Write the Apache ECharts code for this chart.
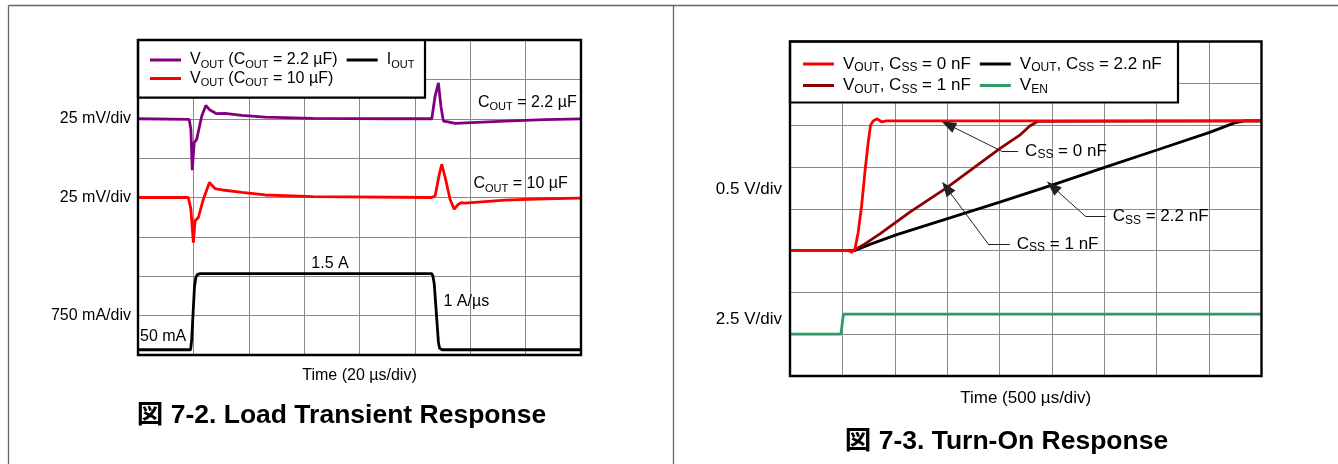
<!DOCTYPE html>
<html>
<head>
<meta charset="utf-8">
<script src="https://cdn.jsdelivr.net/npm/echarts@6/dist/echarts.min.js"></script>
<style>
  html, body { margin: 0; padding: 0; background: #fff; }
  #chart { width: 1338px; height: 464px; }
</style>
</head>
<body>
<div id="chart"></div>
<script>
// ---------- Load transient response (time in µs) ----------
// VOUT deviation with COUT = 2.2 µF, in mV
const ltPurpleTime = [0, 18.5, 19.1, 19.6, 20.3, 21.2, 23.0, 24.5, 26.0, 28.4, 31.4, 37.5, 45.9, 63.2, 90, 106.1, 107.3, 108.5, 109.4, 110.3, 111.5, 114.5, 120.5, 132.5, 147, 160];
const ltPurpleMv   = [0, -0.4, -6.8, -32.6, -15.2, -13.1, 1.6, 8.4, 5.5, 3.2, 3.4, 2.1, 1.0, 0.2, 0, 0, 14.3, 22.8, 8.0, -1.5, -1.9, -3.0, -2.5, -1.5, -0.6, -0.1];
// VOUT deviation with COUT = 10 µF, in mV
const ltRedTime = [0, 18.2, 19.1, 20.0, 20.6, 21.8, 23.6, 25.8, 27.8, 31.4, 37.5, 45.9, 63.2, 106.0, 107.3, 108.7, 109.7, 111.1, 112.7, 114.2, 115.7, 116.9, 117.8, 120.5, 132.5, 147, 160];
const ltRedMv   = [0, 0, -7.4, -28.6, -14.8, -12.7, -1.1, 9.5, 5.7, 4.6, 3.2, 1.6, 0.5, 0, 1.0, 13.7, 21.1, 11.6, -1.1, -7.4, -4.3, -3.2, -3.6, -3.2, -1.7, -0.8, -0.4];
// Load current step, in A
const ltIoutTime = [0, 19.0, 19.4, 20.4, 20.9, 21.4, 22.4, 106.0, 106.5, 107.0, 108.5, 108.9, 109.8, 160];
const ltIoutA    = [0.05, 0.05, 0.25, 1.25, 1.43, 1.48, 1.5, 1.5, 1.46, 1.3, 0.2, 0.08, 0.05, 0.05];

// ---------- Turn-on response (time in µs, volts) ----------
const onCss0Time = [0, 556, 588, 620, 651, 684, 715, 747, 769, 794, 832, 874, 922, 4500];
const onCss0V    = [0, 0, -0.02, 0.02, 0.22, 0.54, 0.94, 1.30, 1.50, 1.55, 1.575, 1.54, 1.55, 1.55];
const onCss1Time = [0, 591, 620, 715, 858, 1144, 1494, 2002, 2193, 2288, 2365, 4500];
const onCss1V    = [0, 0, 0.01, 0.08, 0.20, 0.46, 0.75, 1.22, 1.38, 1.49, 1.545, 1.55];
const onCss22Time = [0, 591, 620, 763, 1020, 1526, 2002, 2508, 3003, 3509, 4005, 4243, 4338, 4500];
const onCss22V    = [0, 0, 0, 0.074, 0.19, 0.39, 0.58, 0.785, 0.995, 1.205, 1.413, 1.527, 1.55, 1.55];
const onEnTime = [0, 486, 510, 4500];
const onEnV    = [0, 0, 1.2, 1.2];

// Per-division scale labels
const leftDivLabels = { 6: '25 mV/div', 4: '25 mV/div', 1: '750 mA/div' };

const FONT = '"Liberation Sans", Arial, "Noto Sans CJK JP", sans-serif';
const pairs = (t, v) => t.map((x, i) => [x, v[i]]);

// rich styles: ECharts labels use "color", raw graphic text uses "fill"
function richLabel(size, sub) {
  return {
    n: { fontSize: size, fontFamily: FONT, color: '#000', lineHeight: 20 },
    s: { fontSize: sub, fontFamily: FONT, color: '#000', lineHeight: sub + 2, verticalAlign: 'bottom' }
  };
}
function richGraphic(size, sub) {
  return {
    n: { fontSize: size, fontFamily: FONT, fill: '#000', lineHeight: 20 },
    s: { fontSize: sub, fontFamily: FONT, fill: '#000', lineHeight: sub + 2, verticalAlign: 'bottom' }
  };
}

const LEGEND_TEXT = {
  'vout22': '{n|V}{s|OUT}{n| (C}{s|OUT}{n| = 2.2 µF)}',
  'vout10': '{n|V}{s|OUT}{n| (C}{s|OUT}{n| = 10 µF)}',
  'iout':   '{n|I}{s|OUT}',
  'css0':   '{n|V}{s|OUT}{n|, C}{s|SS}{n| = 0 nF}',
  'css1':   '{n|V}{s|OUT}{n|, C}{s|SS}{n| = 1 nF}',
  'css22':  '{n|V}{s|OUT}{n|, C}{s|SS}{n| = 2.2 nF}',
  'ven':    '{n|V}{s|EN}'
};

const L = { left: 138, top: 40, width: 443, height: 315 };
const R = { left: 790, top: 41.5, width: 471.5, height: 334.5 };
const GRID_LINE = { show: true, lineStyle: { color: '#8a8a8a', width: 1 } };

function legendRow(items, left, top, size, sub) {
  return {
    data: items, left: left, top: top, orient: 'horizontal', padding: 0,
    icon: 'rect', itemWidth: 31, itemHeight: 3, itemGap: 9, selectedMode: false,
    formatter: n => LEGEND_TEXT[n],
    textStyle: { rich: richLabel(size, sub), padding: [0, 0, 0, 4] }
  };
}

function traceLine(name, color, xi, yi, data, extra) {
  return Object.assign({
    type: 'line', name: name, xAxisIndex: xi, yAxisIndex: yi, data: data,
    symbol: 'none', showSymbol: false, color: color, silent: true, animation: false,
    lineStyle: { color: color, width: 2.8 }
  }, extra || {});
}

const annotRich = richLabel(17, 12);
function callout(bend, tip, end, text) {
  return [
    [{ coord: bend, symbol: 'none' }, { coord: tip, symbol: 'triangle', symbolSize: [11, 15] }],
    [{ coord: bend, symbol: 'none' },
     { coord: end, symbol: 'none',
       label: { show: true, position: 'end', distance: 7, formatter: () => text, rich: annotRich } }]
  ];
}

const chart = echarts.init(document.getElementById('chart'), null, { renderer: 'canvas' });

chart.setOption({
  animation: false,
  backgroundColor: '#fff',
  grid: [
    Object.assign({ show: false }, L),
    Object.assign({ show: false }, R)
  ],
  xAxis: [
    { gridIndex: 0, type: 'value', min: 0, max: 160, interval: 20,
      splitLine: GRID_LINE, axisLine: { show: false }, axisTick: { show: false }, axisLabel: { show: false },
      name: 'Time (20 µs/div)', nameLocation: 'middle', nameGap: 13,
      nameTextStyle: { fontSize: 16, fontFamily: FONT, color: '#000' } },
    { gridIndex: 1, type: 'value', min: 0, max: 4500, interval: 500,
      splitLine: GRID_LINE, axisLine: { show: false }, axisTick: { show: false }, axisLabel: { show: false },
      name: 'Time (500 µs/div)', nameLocation: 'middle', nameGap: 14,
      nameTextStyle: { fontSize: 17, fontFamily: FONT, color: '#000' } }
  ],
  yAxis: [
    // 0: division grid of the load-transient panel
    { gridIndex: 0, type: 'value', min: 0, max: 8, interval: 1,
      splitLine: GRID_LINE, axisLine: { show: false }, axisTick: { show: false },
      axisLabel: { show: true, margin: 7, fontSize: 16, fontFamily: FONT, color: '#000',
                   formatter: v => leftDivLabels[v] || '' } },
    // 1: VOUT (2.2 µF), 25 mV/div
    { gridIndex: 0, type: 'value', min: -150, max: 50, show: false, splitLine: { show: false } },
    // 2: VOUT (10 µF), 25 mV/div
    { gridIndex: 0, type: 'value', min: -100, max: 100, show: false, splitLine: { show: false } },
    // 3: IOUT, 750 mA/div
    { gridIndex: 0, type: 'value', min: -0.05, max: 5.95, show: false, splitLine: { show: false } },
    // 4: division grid of the turn-on panel
    { gridIndex: 1, type: 'value', min: 0, max: 8, interval: 1,
      splitLine: GRID_LINE, axisLine: { show: false }, axisTick: { show: false }, axisLabel: { show: false } },
    // 5: VOUT, 0.5 V/div
    { gridIndex: 1, type: 'value', min: -1.5, max: 2.5, show: false, splitLine: { show: false } },
    // 6: VEN, 2.5 V/div
    { gridIndex: 1, type: 'value', min: -2.5, max: 17.5, show: false, splitLine: { show: false } }
  ],
  legend: [
    legendRow(['vout22', 'iout'], 150, 52, 16, 11),
    legendRow(['vout10'], 150, 70.5, 16, 11),
    legendRow(['css0', 'css22'], 803, 55.5, 17, 12),
    legendRow(['css1', 'ven'], 803, 77, 17, 12)
  ],
  series: [
    traceLine('iout', '#000000', 0, 3, pairs(ltIoutTime, ltIoutA)),
    traceLine('vout10', '#ff0000', 0, 2, pairs(ltRedTime, ltRedMv)),
    traceLine('vout22', '#800080', 0, 1, pairs(ltPurpleTime, ltPurpleMv)),

    traceLine('css22', '#000000', 1, 5, pairs(onCss22Time, onCss22V)),
    traceLine('css1', '#8b0000', 1, 5, pairs(onCss1Time, onCss1V)),
    traceLine('css0', '#ff0000', 1, 5, pairs(onCss0Time, onCss0V), {
      markLine: {
        silent: true, animation: false, symbol: ['none', 'none'],
        lineStyle: { color: '#222', width: 1, type: 'solid' },
        label: { show: false },
        emphasis: { disabled: true },
        data: [].concat(
          callout([2019, 1.189], [1509, 1.507], [2177, 1.189], '{n|C}{s|SS}{n| = 0 nF}'),
          callout([2822, 0.407], [2505, 0.765], [3013, 0.407], '{n|C}{s|SS}{n| = 2.2 nF}'),
          callout([1891, 0.080], [1494, 0.750], [2098, 0.080], '{n|C}{s|SS}{n| = 1 nF}')
        )
      }
    }),
    traceLine('ven', '#2e9b66', 1, 6, pairs(onEnTime, onEnV))
  ],
  graphic: [
    // page frame
    { type: 'line', z: 1, shape: { x1: 8.5, y1: 5.5, x2: 1338, y2: 5.5 }, style: { stroke: '#666', lineWidth: 1.3 } },
    { type: 'line', z: 1, shape: { x1: 8.5, y1: 5.5, x2: 8.5, y2: 464 }, style: { stroke: '#666', lineWidth: 1.3 } },
    { type: 'line', z: 1, shape: { x1: 673.5, y1: 5.5, x2: 673.5, y2: 464 }, style: { stroke: '#666', lineWidth: 1.3 } },

    // legend boxes
    { type: 'rect', z: 3, shape: { x: 138, y: 40, width: 287, height: 57.7 }, style: { fill: '#fff', stroke: '#000', lineWidth: 2.2 } },
    { type: 'rect', z: 3, shape: { x: 790, y: 41.5, width: 388, height: 61 }, style: { fill: '#fff', stroke: '#000', lineWidth: 2.2 } },

    // plot frames
    { type: 'rect', z: 10, shape: { x: L.left, y: L.top, width: L.width, height: L.height }, style: { fill: 'none', stroke: '#000', lineWidth: 2.4 } },
    { type: 'rect', z: 10, shape: { x: R.left, y: R.top, width: R.width, height: R.height }, style: { fill: 'none', stroke: '#000', lineWidth: 2.4 } },

    // load-transient annotations
    { type: 'text', z: 5, style: { x: 478, y: 102.5, text: '{n|C}{s|OUT}{n| = 2.2 µF}', rich: richGraphic(16, 11), align: 'left', verticalAlign: 'middle' } },
    { type: 'text', z: 5, style: { x: 473.5, y: 184, text: '{n|C}{s|OUT}{n| = 10 µF}', rich: richGraphic(16, 11), align: 'left', verticalAlign: 'middle' } },
    { type: 'text', z: 5, style: { x: 330, y: 264, text: '1.5 A', font: '16px ' + FONT, fill: '#000', align: 'center', verticalAlign: 'middle' } },
    { type: 'text', z: 5, style: { x: 443.5, y: 302, text: '1 A/µs', font: '16px ' + FONT, fill: '#000', align: 'left', verticalAlign: 'middle' } },
    { type: 'text', z: 5, style: { x: 140, y: 336.5, text: '50 mA', font: '16px ' + FONT, fill: '#000', align: 'left', verticalAlign: 'middle' } },

    // turn-on scale labels
    { type: 'text', z: 5, style: { x: 782, y: 189.5, text: '0.5 V/div', font: '17px ' + FONT, fill: '#000', align: 'right', verticalAlign: 'middle' } },
    { type: 'text', z: 5, style: { x: 782, y: 319.5, text: '2.5 V/div', font: '17px ' + FONT, fill: '#000', align: 'right', verticalAlign: 'middle' } },

    // figure captions
    { type: 'text', z: 5, style: { x: 341.5, y: 416, text: '図 7-2. Load Transient Response', font: 'bold 26.5px ' + FONT, fill: '#000', align: 'center', verticalAlign: 'middle' } },
    { type: 'text', z: 5, style: { x: 1006.5, y: 441.5, text: '図 7-3. Turn-On Response', font: 'bold 26.5px ' + FONT, fill: '#000', align: 'center', verticalAlign: 'middle' } }
  ]
});
</script>
</body>
</html>
